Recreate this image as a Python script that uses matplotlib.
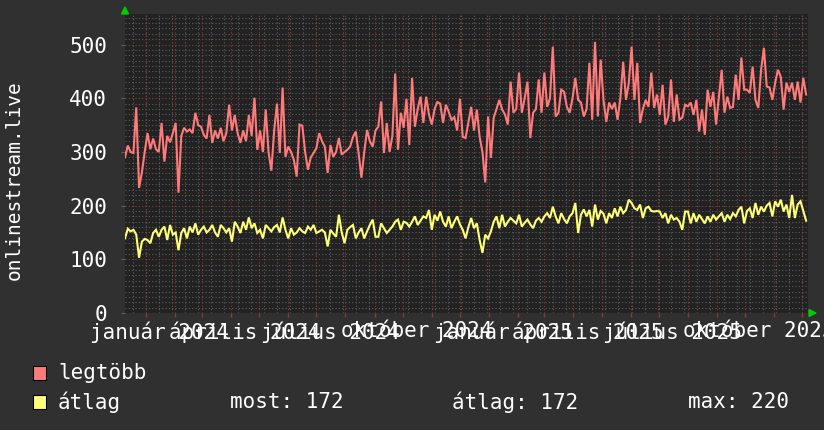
import numpy as np
import matplotlib
matplotlib.use('Agg')
import matplotlib.pyplot as plt
from matplotlib.patches import Rectangle, Polygon

# ---------------- data ----------------
start_date = np.datetime64('2023-12-10')
step_days = 3
span_days = 728

legtobb = [
    290, 312, 300, 298, 383, 233, 262, 300, 335, 305,
    325, 305, 300, 354, 282, 330, 318, 335, 354, 224,
    330, 345, 338, 342, 335, 373, 350, 347, 332, 325,
    369, 317, 340, 325, 345, 320, 335, 388, 340, 369,
    335, 317, 340, 320, 369, 330, 401, 304, 340, 300,
    379, 300, 265, 340, 390, 298, 420, 291, 310, 300,
    285, 254, 351, 349, 300, 267, 290, 298, 307, 335,
    320, 310, 261, 313, 291, 300, 326, 295, 300, 304,
    310, 328, 338, 298, 252, 300, 341, 320, 310, 340,
    347, 394, 298, 354, 300, 330, 446, 304, 373, 345,
    399, 313, 438, 347, 380, 403, 354, 403, 370, 351,
    380, 393, 390, 354, 388, 375, 360, 365, 340, 399,
    328, 326, 355, 384, 340, 379, 328, 300, 243, 366,
    289, 364, 380, 397, 379, 370, 351, 431, 373, 380,
    448, 373, 400, 431, 326, 373, 380, 435, 373, 448,
    384, 400, 496, 366, 373, 416, 412, 384, 373, 400,
    438, 397, 392, 366, 380, 466, 360, 505, 366, 472,
    397, 356, 392, 380, 392, 360, 400, 468, 397, 429,
    496, 397, 466, 354, 380, 397, 384, 448, 382, 407,
    369, 425, 351, 366, 435, 356, 407, 360, 364, 388,
    385, 392, 369, 397, 338, 379, 332, 416, 384, 412,
    351, 403, 453, 373, 403, 382, 384, 444, 397, 476,
    416, 416, 410, 459, 397, 382, 453, 494, 422, 420,
    397, 429, 453, 440, 379, 429, 412, 429, 397, 431, 392, 438, 407,
]

atlag = [
    139, 157, 152, 155, 146, 103, 133, 138, 136, 130,
    149, 155, 142, 155, 161, 136, 164, 146, 150, 117,
    149, 158, 139, 161, 150, 167, 146, 155, 161, 150,
    155, 164, 150, 142, 164, 158, 150, 158, 133, 170,
    161, 149, 170, 155, 178, 158, 167, 149, 155, 139,
    164, 158, 152, 160, 164, 150, 178, 155, 139, 158,
    146, 150, 158, 152, 149, 161, 155, 164, 149, 152,
    155, 150, 124, 155, 148, 142, 183, 150, 130, 155,
    160, 164, 139, 150, 158, 139, 152, 164, 174, 142,
    142, 167, 158, 149, 155, 161, 170, 174, 155, 170,
    168, 161, 170, 180, 164, 172, 180, 177, 192, 155,
    183, 172, 189, 170, 161, 180, 158, 170, 180, 165,
    155, 139, 160, 177, 158, 167, 136, 112, 146, 139,
    152, 170, 180, 158, 183, 161, 170, 177, 172, 167,
    183, 161, 168, 174, 165, 158, 172, 177, 170, 180,
    186, 177, 198, 180, 167, 186, 175, 167, 180, 186,
    205, 149, 183, 193, 180, 192, 161, 202, 174, 190,
    185, 167, 186, 177, 195, 180, 198, 186, 192, 211,
    205, 195, 192, 202, 177, 195, 198, 190, 189, 190,
    189, 177, 186, 167, 183, 174, 177, 170, 155, 189,
    189, 167, 186, 170, 183, 175, 167, 180, 170, 183,
    174, 180, 186, 170, 183, 175, 186, 180, 192, 198,
    167, 190, 195, 177, 205, 183, 198, 189, 200, 205,
    180, 208, 198, 211, 189, 202, 177, 220, 177, 202, 208, 190, 172,
]

x_label_dates = ['2024-01-16', '2024-04-16', '2024-07-16', '2024-10-16',
                 '2025-01-16', '2025-04-16', '2025-07-16', '2025-10-16']
x_labels = ['január 2024', 'április 2024', 'július 2024', 'október 2024',
            'január 2025', 'április 2025', 'július 2025', 'október 2025']
y_ticks = [0, 100, 200, 300, 400, 500]
y_max = 557

series_names = ['legtöbb', 'átlag']
stat_most, stat_atlag, stat_max = 172, 172, 220

# ---------------- style ----------------
W, H = 824, 430
BG = '#303030'
PLOT_BG = '#222222'
RED = '#ff7b7b'
YEL = '#ffff77'
MINOR = '#5e5e5e'
MAJOR = '#8a3a3a'
FONT = 'DejaVu Sans Mono'

plt.rcParams['font.family'] = [FONT]

fig = plt.figure(figsize=(W / 100, H / 100), dpi=100)
fig.patch.set_facecolor(BG)
L, R, T, B = 125, 808, 14, 313
ax = fig.add_axes([L / W, 1 - B / H, (R - L) / W, (B - T) / H])
ax.set_facecolor(PLOT_BG)

t0 = start_date
t1 = start_date + np.timedelta64(span_days, 'D')
times_r = start_date + np.arange(len(legtobb)) * np.timedelta64(step_days, 'D')
times_y = start_date + np.arange(len(atlag)) * np.timedelta64(step_days, 'D')

# grid: minor (2-week) and horizontal every 10
dot = (0, (1, 2))
minor_x = np.arange(np.datetime64('2023-12-18'), t1, np.timedelta64(14, 'D'))
for d in minor_x:
    ax.axvline(d, color=MINOR, lw=0.8, ls=dot, zorder=1)
for v in range(10, y_max, 10):
    if v % 100:
        ax.axhline(v, color=MINOR, lw=0.8, ls=dot, zorder=1)
# major: month starts and every 100
month_starts = np.arange(np.datetime64('2024-01'), np.datetime64('2025-12') + 1,
                         np.timedelta64(1, 'M')).astype('datetime64[D]')
for d in month_starts:
    ax.axvline(d, color=MAJOR, lw=0.8, ls=dot, zorder=1.5)
for v in y_ticks[1:]:
    ax.axhline(v, color=MAJOR, lw=0.8, ls=dot, zorder=1.5)

ax.plot(times_r, legtobb, color=RED, lw=1.5, zorder=3, solid_joinstyle='miter')
ax.plot(times_y, atlag, color=YEL, lw=1.5, zorder=3, solid_joinstyle='miter')

ax.set_xlim(t0, t1)
ax.set_ylim(0, y_max)
for s in ax.spines.values():
    s.set_visible(False)

ax.set_yticks(y_ticks)
ax.set_yticklabels([str(v) for v in y_ticks])
ax.set_xticks([np.datetime64(d) for d in x_label_dates])
ax.set_xticklabels(x_labels)
ax.set_xticks(month_starts, minor=True)
ax.tick_params(axis='x', which='major', length=0, pad=6, labelsize=15, labelcolor='white')
ax.tick_params(axis='x', which='minor', length=3, color=MAJOR, width=1)
ax.tick_params(axis='y', which='major', length=3, color=MINOR, pad=10,
               labelsize=15, labelcolor='white')

# arrows
def px(x, y):
    return (x / W, 1 - y / H)

fig.add_artist(Polygon([px(121.5, 14), px(128.5, 14), px(125, 7)], closed=True,
                       color='#00cc00', transform=fig.transFigure))
fig.add_artist(Polygon([px(809, 309.5), px(809, 316.5), px(816, 313)], closed=True,
                       color='#00cc00', transform=fig.transFigure))

# y label
fig.text(*px(14, 180), 'onlinestream.live', rotation=90, ha='center', va='center',
         color='white', fontsize=14)

# legend
rows = [373, 402]
colors = [RED, YEL]
for name, c, yy in zip(series_names, colors, rows):
    x0, y0 = px(33, yy + 7)
    fig.add_artist(Rectangle((x0, y0), 13 / W, 14 / H, facecolor=c, edgecolor='black',
                             lw=0.8, transform=fig.transFigure))
    fig.text(*px(58, yy), name, ha='left', va='center', color='white', fontsize=15)

fig.text(*px(230, rows[1]), f'most: {stat_most}', ha='left', va='center', color='white', fontsize=15)
fig.text(*px(452, rows[1]), f'átlag: {stat_atlag}', ha='left', va='center', color='white', fontsize=15)
fig.text(*px(688, rows[1]), f'max: {stat_max}', ha='left', va='center', color='white', fontsize=15)

fig.savefig('out.png', dpi=100, facecolor=BG)
